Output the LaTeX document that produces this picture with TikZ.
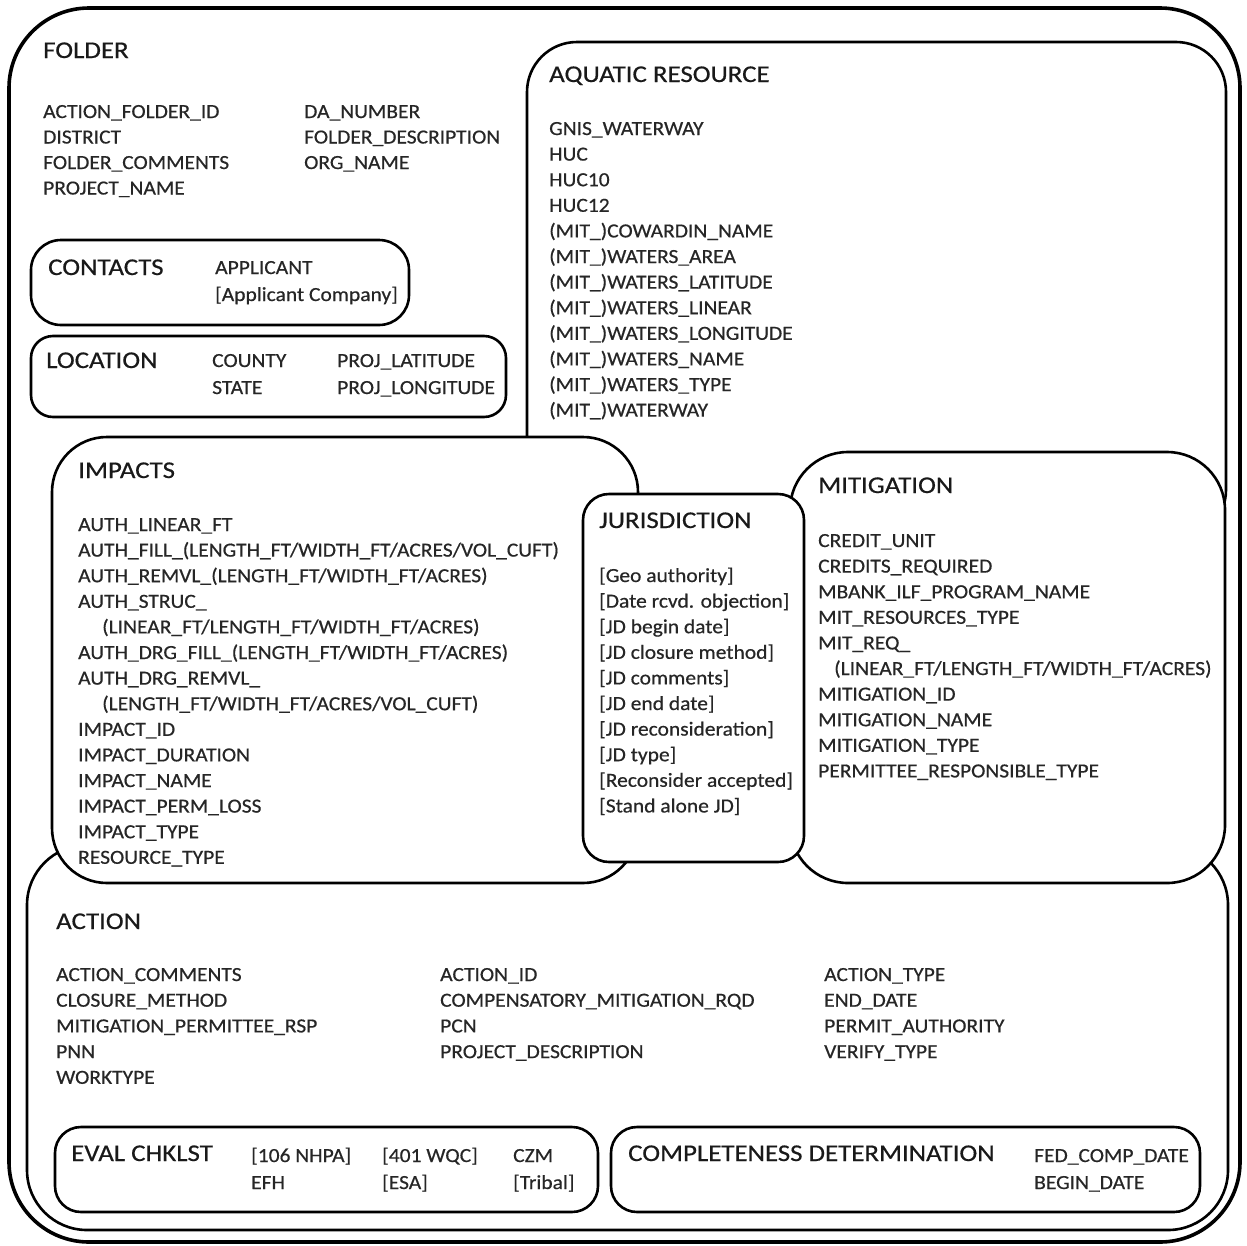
\documentclass[tikz,border=0pt]{standalone}
\usepackage{fontspec}
\setmainfont{Carlito}
\newfontfamily\fldfont[FakeStretch=1.075,FakeBold=0.5]{Carlito}
\newfontfamily\headfont[FakeStretch=1.12,FakeBold=0.5]{Carlito}
\newcommand\fieldlist[5]{% prefix, x, first baseline, step, items
  \foreach \t [count=\i from 0] in {#5} {
    \node[fld] (#1\i) at (#2, {#3+\i*#4}) {\t};
  }}
\begin{document}
\begin{tikzpicture}[x=1pt,y=-1pt,
  box/.style={draw=black,fill=white,line width=2.6pt},
  outerbox/.style={draw=black,fill=white,line width=3.6pt},
  fld/.style={anchor=base west,inner sep=0pt,text=black!85,font=\fldfont\fontsize{20}{24}\selectfont},
  head/.style={anchor=base west,inner sep=0pt,text=black!90,font=\headfont\fontsize{24}{28}\selectfont}]
\useasboundingbox (0,0) rectangle (1247,1245);
% outer folder
\draw[outerbox,rounded corners=80pt] (9,8) rectangle (1240,1242);
% aquatic resource
\draw[box,rounded corners=50pt] (527,42) rectangle (1226,540);
% contacts, location
\draw[box,rounded corners=30pt] (31,240) rectangle (409,325);
\draw[box,rounded corners=22pt] (31,336) rectangle (506,417);
% action
\draw[box,rounded corners=60pt] (27,845) rectangle (1228,1230);
\draw[box,rounded corners=26pt] (55,1127) rectangle (598,1212);
\draw[box,rounded corners=26pt] (611,1127) rectangle (1200,1212);
% impacts
\draw[box,rounded corners=55pt] (52,437) rectangle (638,883);
% mitigation
\draw[box,rounded corners=58pt] (790,452) rectangle (1225,883);
% jurisdiction
\draw[box,rounded corners=26pt] (583,494) rectangle (804,862);

% FOLDER
\node[head] (folderh) at (43,58) {FOLDER};
\fieldlist{fa}{43}{118}{25.5}{{ACTION\_FOLDER\_ID},{DISTRICT},{FOLDER\_COMMENTS},{PROJECT\_NAME}}
\fieldlist{fb}{304}{118}{25.5}{{DA\_NUMBER},{FOLDER\_DESCRIPTION},{ORG\_NAME}}
% CONTACTS
\node[head] (contactsh) at (48,275) {CONTACTS};
\fieldlist{ca}{215}{274}{27}{{APPLICANT},{[Applicant Company]}}
% LOCATION
\node[head] (locationh) at (46,368) {LOCATION};
\fieldlist{la}{212}{367}{27}{{COUNTY},{STATE}}
\fieldlist{lb}{337}{367}{27}{{PROJ\_LATITUDE},{PROJ\_LONGITUDE}}
% AQUATIC RESOURCE
\node[head] (aquah) at (549,82) {AQUATIC RESOURCE};
\fieldlist{aq}{549}{135}{25.6}{{GNIS\_WATERWAY},{HUC},{HUC10},{HUC12},{(MIT\_)COWARDIN\_NAME},{(MIT\_)WATERS\_AREA},{(MIT\_)WATERS\_LATITUDE},{(MIT\_)WATERS\_LINEAR},{(MIT\_)WATERS\_LONGITUDE},{(MIT\_)WATERS\_NAME},{(MIT\_)WATERS\_TYPE},{(MIT\_)WATERWAY}}
% IMPACTS
\node[head] (impactsh) at (78,478) {IMPACTS};
\fieldlist{im}{78}{531}{25.6}{{AUTH\_LINEAR\_FT},{AUTH\_FILL\_(LENGTH\_FT/WIDTH\_FT/ACRES/VOL\_CUFT)},{AUTH\_REMVL\_(LENGTH\_FT/WIDTH\_FT/ACRES)},{AUTH\_STRUC\_},{\hspace*{24pt}(LINEAR\_FT/LENGTH\_FT/WIDTH\_FT/ACRES)},{AUTH\_DRG\_FILL\_(LENGTH\_FT/WIDTH\_FT/ACRES)},{AUTH\_DRG\_REMVL\_},{\hspace*{24pt}(LENGTH\_FT/WIDTH\_FT/ACRES/VOL\_CUFT)},{IMPACT\_ID},{IMPACT\_DURATION},{IMPACT\_NAME},{IMPACT\_PERM\_LOSS},{IMPACT\_TYPE},{RESOURCE\_TYPE}}
% JURISDICTION
\node[head] (jurish) at (599,528) {JURISDICTION};
\fieldlist{ju}{599}{582}{25.6}{{[Geo authority]},{[Date rcvd. objection]},{[JD begin date]},{[JD closure method]},{[JD comments]},{[JD end date]},{[JD reconsideration]},{[JD type]},{[Reconsider accepted]},{[Stand alone JD]}}
% MITIGATION
\node[head] (mitigh) at (818,493) {MITIGATION};
\fieldlist{mi}{818}{547}{25.6}{{CREDIT\_UNIT},{CREDITS\_REQUIRED},{MBANK\_ILF\_PROGRAM\_NAME},{MIT\_RESOURCES\_TYPE},{MIT\_REQ\_},{\hspace*{16pt}(LINEAR\_FT/LENGTH\_FT/WIDTH\_FT/ACRES)},{MITIGATION\_ID},{MITIGATION\_NAME},{MITIGATION\_TYPE},{PERMITTEE\_RESPONSIBLE\_TYPE}}
% ACTION
\node[head] (actionh) at (56,929) {ACTION};
\fieldlist{aa}{56}{981}{25.7}{{ACTION\_COMMENTS},{CLOSURE\_METHOD},{MITIGATION\_PERMITTEE\_RSP},{PNN},{WORKTYPE}}
\fieldlist{ab}{440}{981}{25.7}{{ACTION\_ID},{COMPENSATORY\_MITIGATION\_RQD},{PCN},{PROJECT\_DESCRIPTION}}
\fieldlist{ac}{824}{981}{25.7}{{ACTION\_TYPE},{END\_DATE},{PERMIT\_AUTHORITY},{VERIFY\_TYPE}}
% EVAL CHKLST
\node[head] (evalh) at (71,1161) {EVAL CHKLST};
\fieldlist{ea}{251}{1162}{27}{{[106 NHPA]},{EFH}}
\fieldlist{eb}{382}{1162}{27}{{[401 WQC]},{[ESA]}}
\fieldlist{ec}{513}{1162}{27}{{CZM},{[Tribal]}}
% COMPLETENESS DETERMINATION
\node[head] (comph) at (628,1161) {COMPLETENESS DETERMINATION};
\fieldlist{cd}{1034}{1162}{27}{{FED\_COMP\_DATE},{BEGIN\_DATE}}
\end{tikzpicture}
\end{document}
